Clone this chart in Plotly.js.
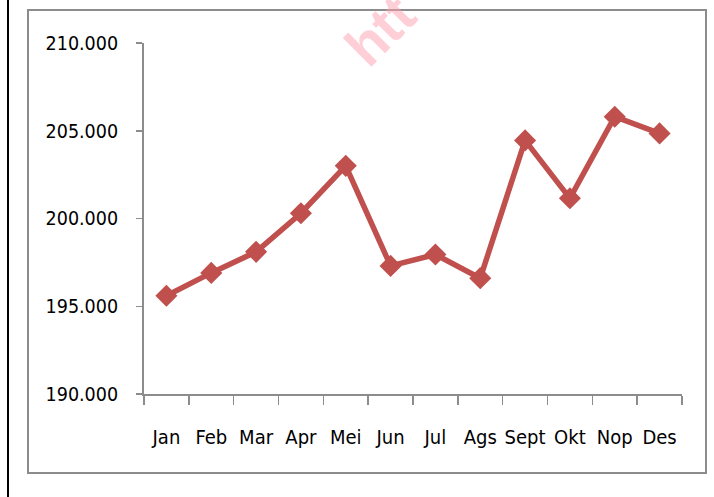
<!DOCTYPE html>
<html>
<head>
<meta charset="utf-8">
<script src="https://cdn.plot.ly/plotly-3.0.1.min.js"></script>
<style>
html,body{margin:0;padding:0;background:#fff;}
#chart{width:714px;height:497px;}
</style>
</head>
<body>
<div id="chart"></div>
<script>
var months = ["Jan","Feb","Mar","Apr","Mei","Jun","Jul","Ags","Sept","Okt","Nop","Des"];
// values in thousands (shown as 195.600 etc.)
var values = [195.6, 196.9, 198.1, 200.3, 203.0, 197.3, 197.95, 196.6, 204.45, 201.15, 205.8, 204.85];

var W = 714, H = 497, L = 144, R = 32, T = 43, B = 103;
var pw = W - L - R, ph = H - T - B;
function px(x){ return (x - L) / pw; }
function py(y){ return (H - B - y) / ph; }

var trace = {
  x: months,
  y: values,
  type: "scatter",
  mode: "lines+markers",
  line: {color: "#C0504D", width: 5.5},
  marker: {symbol: "diamond", size: 17, color: "#C0504D"},
  cliponaxis: false,
  hoverinfo: "x+y"
};

var FONT = "DejaVu Sans Condensed, Liberation Sans Narrow, Liberation Sans, sans-serif";

var layout = {
  width: W, height: H,
  margin: {l: L, r: R, t: T, b: B, pad: 0},
  paper_bgcolor: "#fff",
  plot_bgcolor: "#fff",
  showlegend: false,
  font: {family: FONT, color: "#000"},
  xaxis: {
    type: "category",
    range: [-0.5, 11.5],
    tickangle: 0,
    showgrid: false,
    zeroline: false,
    showline: true,
    linecolor: "#8c8c8c",
    linewidth: 2,
    ticks: "outside",
    tickson: "boundaries",
    ticklen: 9,
    tickwidth: 1.5,
    tickcolor: "#8c8c8c",
    tickfont: {family: FONT, size: 20, color: "#000"},
    ticklabelstandoff: 24
  },
  yaxis: {
    range: [190, 210],
    dtick: 5,
    tick0: 190,
    tickformat: ".3f",
    showgrid: false,
    zeroline: false,
    showline: true,
    linecolor: "#8c8c8c",
    linewidth: 2,
    ticks: "outside",
    ticklen: 6,
    tickwidth: 1.5,
    tickcolor: "#8c8c8c",
    tickfont: {family: FONT, size: 19.5, color: "#000"},
    ticklabelstandoff: 14
  },
  shapes: [
    {type: "rect", xref: "paper", yref: "paper",
     x0: px(28), x1: px(706), y0: py(473), y1: py(10),
     line: {color: "#8c8c8c", width: 2}, fillcolor: "rgba(0,0,0,0)", layer: "below"},
    {type: "line", xref: "paper", yref: "paper",
     x0: px(8), x1: px(8), y0: py(-2), y1: py(499),
     line: {color: "#000", width: 2}}
  ],
  annotations: [
    {xref: "paper", yref: "paper", x: px(380), y: py(30),
     text: "<b>htt</b>", showarrow: false, textangle: -45,
     font: {family: "Liberation Sans, Arial, sans-serif", size: 56, color: "rgba(255,160,178,0.5)"},
     xanchor: "center", yanchor: "middle"}
  ]
};

Plotly.newPlot("chart", [trace], layout, {displayModeBar: false, staticPlot: true});
</script>
</body>
</html>
